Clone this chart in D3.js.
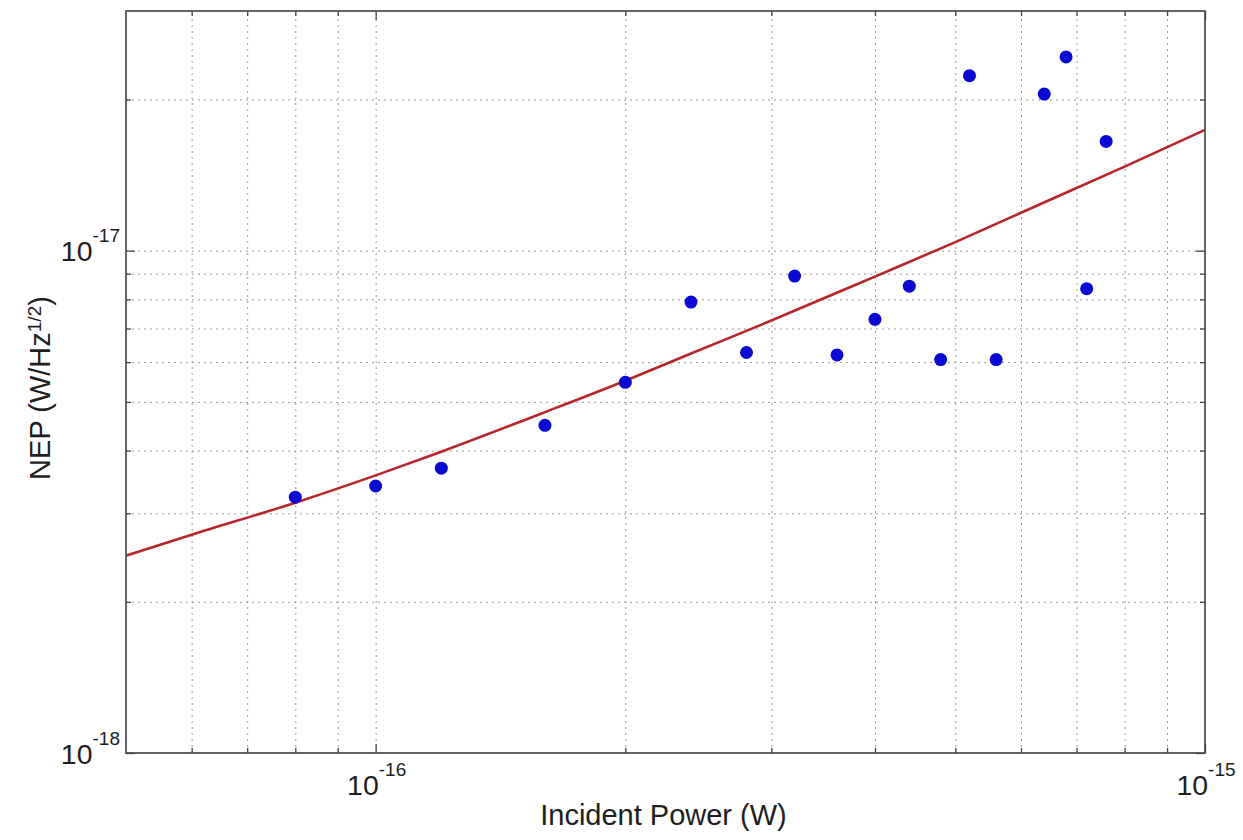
<!DOCTYPE html>
<html>
<head>
<meta charset="utf-8">
<script src="https://cdn.jsdelivr.net/npm/d3@7"></script>
<style>
  html, body { margin: 0; padding: 0; background: #fff; }
  svg { display: block; font-family: "Liberation Sans", Arial, sans-serif; }
</style>
</head>
<body>
<svg id="chart" width="1243" height="840"></svg>
<script>
// Measured noise-equivalent power versus incident optical power
const measuredPower = [8e-17, 1e-16, 1.2e-16, 1.6e-16, 2e-16, 2.4e-16, 2.8e-16, 3.2e-16, 3.6e-16,
                       4e-16, 4.4e-16, 4.8e-16, 5.2e-16, 5.6e-16, 6.4e-16, 6.8e-16, 7.2e-16, 7.6e-16];
const measuredNEP   = [3.23e-18, 3.4e-18, 3.69e-18, 4.49e-18, 5.47e-18, 7.9e-18, 6.27e-18, 8.9e-18, 6.2e-18,
                       7.3e-18, 8.5e-18, 6.07e-18, 2.23e-17, 6.07e-18, 2.05e-17, 2.43e-17, 8.4e-18, 1.65e-17];

// Model NEP curve
const modelPower = [5e-17, 6e-17, 8e-17, 1e-16, 1.2e-16, 1.6e-16, 2e-16, 2.4e-16, 3e-16,
                    4e-16, 5e-16, 6e-16, 8e-16, 1e-15];
const modelNEP   = [2.47e-18, 2.72e-18, 3.15e-18, 3.57e-18, 3.98e-18, 4.77e-18, 5.51e-18, 6.24e-18, 7.26e-18,
                    8.88e-18, 1.04e-17, 1.19e-17, 1.47e-17, 1.74e-17];

// Axis ranges, grid lines and labelled decades
const xDomain = [5e-17, 1e-15];
const yDomain = [1e-18, 3e-17];
const xGrid = [6e-17, 7e-17, 8e-17, 9e-17, 1e-16, 2e-16, 3e-16, 4e-16, 5e-16, 6e-16, 7e-16, 8e-16, 9e-16];
const yGrid = [2e-18, 3e-18, 4e-18, 5e-18, 6e-18, 7e-18, 8e-18, 9e-18, 1e-17, 2e-17];
const xMajor = [1e-16, 1e-15];
const yMajor = [1e-18, 1e-17];
const xTickExponents = ["-16", "-15"];
const yTickExponents = ["-18", "-17"];
const xTitle = "Incident Power (W)";
const yTitleMain = "NEP (W/Hz";
const yTitleSup = "1/2";

const plotLeft = 126, plotRight = 1205, plotTop = 11, plotBottom = 753;
const plotW = plotRight - plotLeft, plotH = plotBottom - plotTop;

const svg = d3.select("#chart");
const x = d3.scaleLog().domain(xDomain).range([plotLeft, plotRight]);
const y = d3.scaleLog().domain(yDomain).range([plotBottom, plotTop]);

// dotted grid
const gridStyle = g => {
  g.select(".domain").remove();
  g.selectAll("text").remove();
  g.selectAll("line").attr("stroke", "#9a9a9a").attr("stroke-width", 1).attr("stroke-dasharray", "2,4");
};
svg.append("g").attr("transform", `translate(0,${plotBottom})`)
  .call(d3.axisBottom(x).tickValues(xGrid).tickSize(-plotH).tickFormat(""))
  .call(gridStyle);
svg.append("g").attr("transform", `translate(${plotLeft},0)`)
  .call(d3.axisLeft(y).tickValues(yGrid).tickSize(-plotW).tickFormat(""))
  .call(gridStyle);

// model curve
const line = d3.line().x((d, i) => x(modelPower[i])).y(d => y(d)).curve(d3.curveMonotoneX);
svg.append("path")
  .datum(modelNEP)
  .attr("d", line)
  .attr("fill", "none")
  .attr("stroke", "#b8252b")
  .attr("stroke-width", 2.6);

// measured points
svg.append("g").selectAll("circle")
  .data(measuredNEP)
  .join("circle")
  .attr("cx", (d, i) => x(measuredPower[i]))
  .attr("cy", d => y(d))
  .attr("r", 6.5)
  .attr("fill", "#0a0ad2");

// frame
svg.append("rect")
  .attr("x", plotLeft).attr("y", plotTop).attr("width", plotW).attr("height", plotH)
  .attr("fill", "none").attr("stroke", "#555").attr("stroke-width", 1.8);

// inward tick marks on all four sides
const tickStyle = g => {
  g.select(".domain").remove();
  g.selectAll("text").remove();
  g.selectAll("line").attr("stroke", "#444").attr("stroke-width", 1.3);
};
const xMinorTicks = xGrid.filter(v => !xMajor.includes(v));
const yMinorTicks = yGrid.filter(v => !yMajor.includes(v));
[[d3.axisBottom, plotBottom], [d3.axisTop, plotTop]].forEach(([ax, pos]) => {
  svg.append("g").attr("transform", `translate(0,${pos})`)
    .call(ax(x).tickValues(xMinorTicks).tickSize(-5).tickFormat("")).call(tickStyle);
  svg.append("g").attr("transform", `translate(0,${pos})`)
    .call(ax(x).tickValues(xMajor).tickSize(-9).tickFormat("")).call(tickStyle);
});
[[d3.axisLeft, plotLeft], [d3.axisRight, plotRight]].forEach(([ax, pos]) => {
  svg.append("g").attr("transform", `translate(${pos},0)`)
    .call(ax(y).tickValues(yMinorTicks).tickSize(-5).tickFormat("")).call(tickStyle);
  svg.append("g").attr("transform", `translate(${pos},0)`)
    .call(ax(y).tickValues(yMajor).tickSize(-9).tickFormat("")).call(tickStyle);
});

// decade labels with superscript exponents
const powerLabel = (sel, exp) => {
  sel.append("tspan").text("10");
  sel.append("tspan").attr("dy", -19).attr("font-size", 19).text(exp);
};
xMajor.forEach((v, i) => {
  svg.append("text")
    .attr("x", x(v) + 1).attr("y", 795)
    .attr("text-anchor", "middle").attr("font-size", 28.5).attr("fill", "#1e1e1e")
    .call(powerLabel, xTickExponents[i]);
});
yMajor.forEach((v, i) => {
  svg.append("text")
    .attr("x", plotLeft - 6).attr("y", y(v) + 10.5)
    .attr("text-anchor", "end").attr("font-size", 28.5).attr("fill", "#1e1e1e")
    .call(powerLabel, yTickExponents[i]);
});

// axis titles
svg.append("text")
  .attr("x", (plotLeft + plotRight) / 2 - 2).attr("y", 825)
  .attr("text-anchor", "middle").attr("font-size", 29).attr("fill", "#1e1e1e")
  .text(xTitle);

const yt = svg.append("text")
  .attr("transform", `translate(50,388) rotate(-90)`)
  .attr("text-anchor", "middle").attr("font-size", 29).attr("fill", "#1e1e1e");
yt.append("tspan").text(yTitleMain);
yt.append("tspan").attr("dy", -9).attr("font-size", 19).text(yTitleSup);
yt.append("tspan").attr("dy", 9).text(")");
</script>
</body>
</html>
